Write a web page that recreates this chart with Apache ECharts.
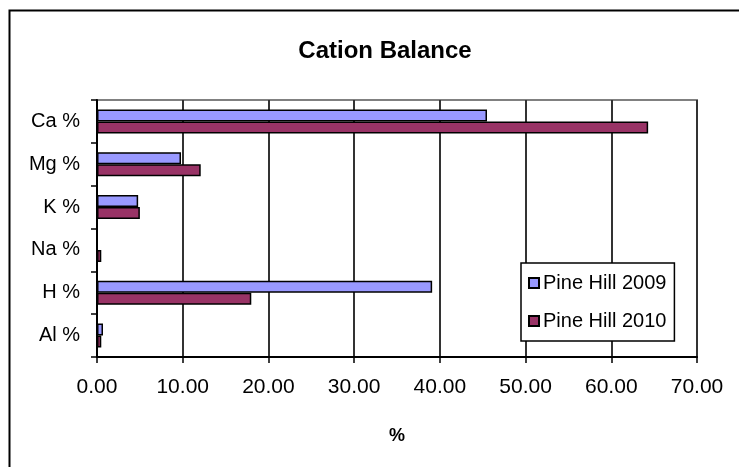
<!DOCTYPE html>
<html>
<head>
<meta charset="utf-8">
<script src="https://cdn.jsdelivr.net/npm/echarts@6/dist/echarts.min.js"></script>
<style>
html,body{margin:0;padding:0;background:#fff;}
#chart{width:739px;height:467px;}
</style>
</head>
<body>
<div id="chart"></div>
<script>
const categories = ['Ca %', 'Mg %', 'K %', 'Na %', 'H %', 'Al %'];
const seriesNames = ['Pine Hill 2009', 'Pine Hill 2010'];
const values2009 = [45.5, 9.8, 4.8, 0, 39.1, 0.7];
const values2010 = [64.3, 12.1, 5.0, 0.5, 18.0, 0.5];
const xTicks = { min: 0, max: 70, interval: 10 };

const FONT = '"Liberation Sans", Arial, sans-serif';
const chart = echarts.init(document.getElementById('chart'), null, { renderer: 'canvas' });
chart.setOption({
  backgroundColor: '#ffffff',
  animation: false,
  title: {
    text: 'Cation Balance',
    left: 380, textAlign: 'center',
    top: 34,
    textStyle: { fontFamily: FONT, fontWeight: 'bold', fontSize: 24, color: '#000' }
  },
  graphic: [{
    type: 'rect', left: 7, top: 8, z: -1,
    shape: { width: 800, height: 500 },
    style: { fill: 'none', stroke: '#000', lineWidth: 2 }
  }],
  grid: {
    left: 97, top: 100, right: 42, bottom: 110,
    show: true, borderColor: '#808080', borderWidth: 2, backgroundColor: 'transparent'
  },
  legend: {
    orient: 'vertical',
    left: 521, top: 263,
    padding: [10, 8, 10, 7],
    itemGap: 18,
    itemWidth: 10, itemHeight: 10,
    icon: 'rect',
    backgroundColor: '#fff',
    borderColor: '#000', borderWidth: 1.5,
    textStyle: { fontFamily: FONT, fontSize: 20, color: '#000', padding: [0, 0, 0, -1] },
    data: seriesNames
  },
  xAxis: {
    type: 'value',
    min: xTicks.min, max: xTicks.max, interval: xTicks.interval,
    name: '%', nameLocation: 'middle', nameGap: 70,
    nameTextStyle: { fontFamily: FONT, fontWeight: 'bold', fontSize: 18, color: '#000' },
    axisLine: { show: true, lineStyle: { color: '#000', width: 2 } },
    axisTick: { show: true, length: 6, lineStyle: { color: '#000', width: 1.5 } },
    splitLine: { show: true, lineStyle: { color: '#333', width: 2 } },
    axisLabel: {
      fontFamily: FONT, fontSize: 21, color: '#000', margin: 20,
      formatter: v => v.toFixed(2)
    }
  },
  yAxis: {
    type: 'category',
    inverse: true,
    data: categories,
    axisLine: { show: true, lineStyle: { color: '#000', width: 2 } },
    axisTick: { show: true, length: 6, lineStyle: { color: '#000', width: 1.5 } },
    axisLabel: { fontFamily: FONT, fontSize: 20, color: '#000', margin: 17 },
    splitLine: { show: false }
  },
  series: [
    {
      name: seriesNames[0], type: 'bar', data: values2009,
      barWidth: 12, barGap: '0%',
      itemStyle: { color: '#9999FF', borderColor: '#000', borderWidth: 1.5 }
    },
    {
      name: seriesNames[1], type: 'bar', data: values2010,
      barWidth: 12, barGap: '0%',
      itemStyle: { color: '#993366', borderColor: '#000', borderWidth: 1.5 }
    }
  ]
});
</script>
</body>
</html>
